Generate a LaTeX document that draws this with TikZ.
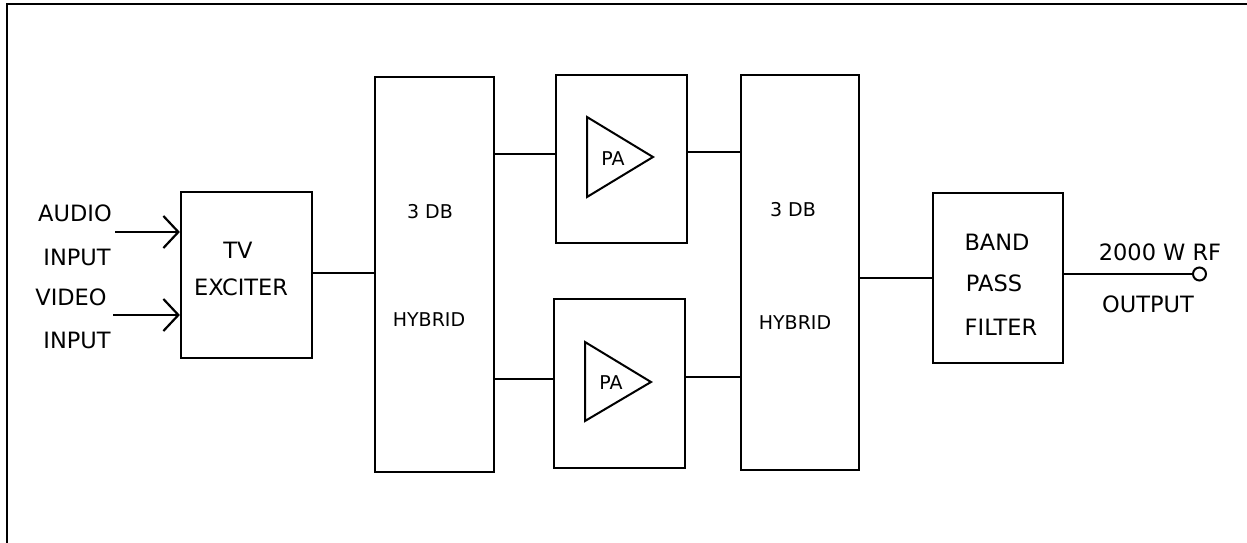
\documentclass[tikz,border=0pt]{standalone}
\usepackage{fontspec}
\setmainfont{DejaVu Sans}
\usetikzlibrary{arrows.meta}
\begin{document}
\begin{tikzpicture}[x=1pt,y=-1pt,
  blk/.style={draw,line width=2.2pt,minimum width=#1,inner sep=0,rectangle},
  big/.style={inner sep=0,font=\fontsize{22.5}{26}\selectfont},
  small/.style={inner sep=0,font=\fontsize{19}{22}\selectfont},
  wire/.style={line width=2.2pt},
  inarrow/.style={line width=2.2pt,-{Straight Barb[length=15pt,width=32pt,line width=2.2pt]}}]
\useasboundingbox (0,0) rectangle (1247,543);
% frame
\draw[line width=2.4pt] (7,543) -- (7,4.3) -- (1247,4.3);
% blocks
\node[blk=131pt,minimum height=166pt] (exc) at (246.5,275) {};
\node[blk=119pt,minimum height=395pt] (hyb1) at (434.5,274.5) {};
\node[blk=131pt,minimum height=168pt] (pa1) at (621.5,159) {};
\node[blk=131pt,minimum height=169pt] (pa2) at (619.5,383.5) {};
\node[blk=118pt,minimum height=395pt] (hyb2) at (800,272.5) {};
\node[blk=130pt,minimum height=170pt] (bpf) at (998,278) {};
\node[draw,circle,line width=2pt,minimum size=13pt,inner sep=0] (out) at (1199.5,274) {};
% amplifier triangles
\draw[line width=2pt] (587,117) -- (653,157) -- (587,197) -- cycle;
\draw[line width=2pt] (585,342) -- (651,382) -- (585,421) -- cycle;
% texts
\node[big] (t1) at (75,213) {AUDIO};
\node[big] (t2) at (77,257) {INPUT};
\node[big] (t3) at (71,297) {VIDEO};
\node[big] (t4) at (77,340) {INPUT};
\node[big] (t5) at (238,250) {TV};
\node[big] (t6) at (241,287) {EXCITER};
\node[small] (t7) at (430,212) {3 DB};
\node[small] (t8) at (429,320) {HYBRID};
\node[small] (t9) at (613,159) {PA};
\node[small] (t10) at (611,383) {PA};
\node[small] (t11) at (793,210) {3 DB};
\node[small] (t12) at (795,323) {HYBRID};
\node[big] (t13) at (997,242) {BAND};
\node[big] (t14) at (994,283) {PASS};
\node[big] (t15) at (1001,327) {FILTER};
\node[big] (t16) at (1160,252) {2000 W RF};
\node[big] (t17) at (1148,304) {OUTPUT};
% input arrows
\coordinate (ain) at (115,232);
\coordinate (vin) at (113,315);
\draw[inarrow] (ain) -- (ain -| exc.west);
\draw[inarrow] (vin) -- (vin -| exc.west);
% connectors
\draw[wire] ([yshift=2pt]exc.east) -- ([yshift=2pt]exc.east -| hyb1.west);
\draw[wire] ([yshift=5pt]pa1.west -| hyb1.east) -- ([yshift=5pt]pa1.west);
\draw[wire] ([yshift=4.5pt]pa2.west -| hyb1.east) -- ([yshift=4.5pt]pa2.west);
\draw[wire] ([yshift=7pt]pa1.east) -- ([yshift=7pt]pa1.east -| hyb2.west);
\draw[wire] ([yshift=6.5pt]pa2.east) -- ([yshift=6.5pt]pa2.east -| hyb2.west);
\draw[wire] (bpf.west -| hyb2.east) -- (bpf.west);
\draw[wire] (bpf.east |- out.west) -- (out.west);
\end{tikzpicture}
\end{document}
